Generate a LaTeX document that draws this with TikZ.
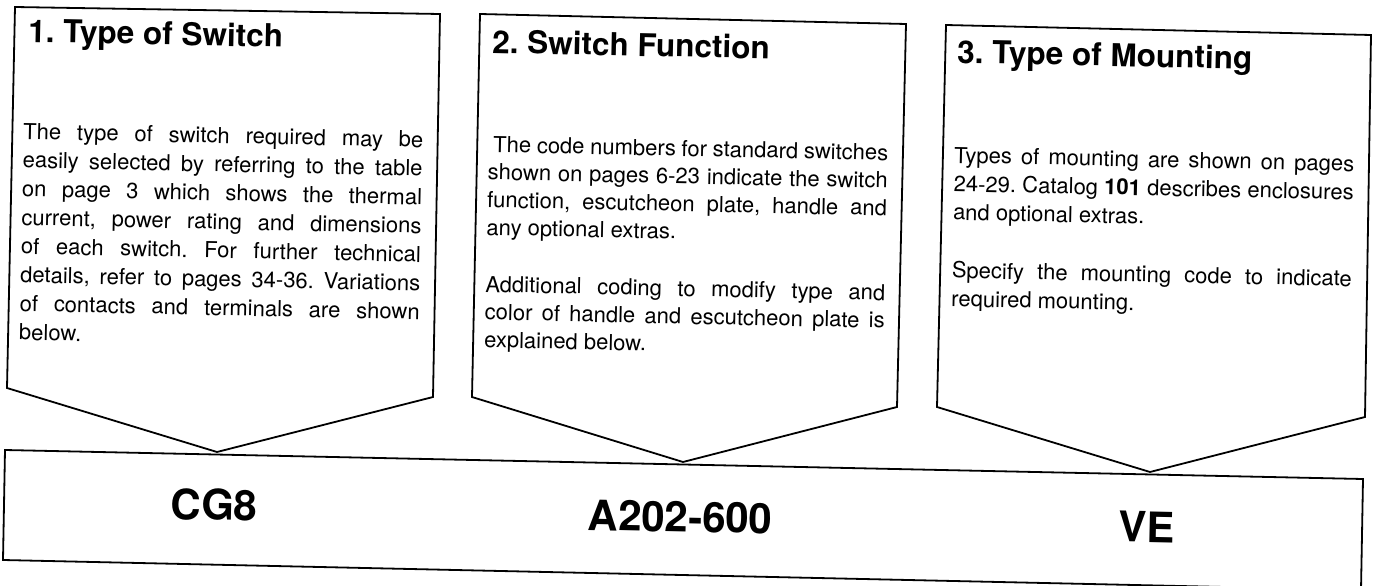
\documentclass[tikz,border=0pt]{standalone}
\usepackage{fontspec}
\setmainfont{TeX Gyre Heros}
\frenchspacing
\begin{document}
\begin{tikzpicture}[x=1pt,y=-1pt,
  outline/.style={line width=1.8pt, line join=miter},
  titletext/.style={anchor=base west, inner sep=0pt, rotate=-1.2, font=\fontsize{31.5}{36}\selectfont\bfseries},
  bodytext/.style={anchor=base west, inner sep=0pt, rotate=-1.2},
  codetext/.style={anchor=base, inner sep=0pt, rotate=-1.2, font=\fontsize{42}{48}\selectfont\bfseries}]
\useasboundingbox (0,0) rectangle (1374,586);
% the three arrow boxes
\draw[outline] (15,7) -- (440,14) -- (433,397) -- (217,452) -- (7,388) -- cycle;
\draw[outline] (480,14) -- (906,24) -- (897,407) -- (683,462) -- (472,397) -- cycle;
\draw[outline] (946,25) -- (1371,35) -- (1365,417) -- (1150,472) -- (937,407) -- cycle;
% the code strip
\draw[outline] (3,560) -- (5,450) -- (1363,479) -- (1361,590) -- cycle;
% titles
\node[titletext] (t1) at (28,42) {1. Type of Switch};
\node[titletext] (t2) at (492,53) {2. Switch Function};
\node[titletext] (t3) at (957,63) {3. Type of Mounting};
% bodies
\node[bodytext] (b1) at (23,139) {\vtop{\hsize=400pt\parindent=0pt\tolerance=9999\hyphenpenalty=10000\emergencystretch=10pt
\fontsize{22}{28.7}\selectfont
The type of switch required may be\linebreak easily selected by referring to the table\linebreak on page 3 which shows the thermal\linebreak current, power rating and dimensions\linebreak of each switch. For further technical\linebreak details, refer to pages 34-36. Variations\linebreak of contacts and terminals are shown\linebreak below.}};
\node[bodytext] (b2) at (488,152) {\vtop{\hsize=400pt\parindent=0pt\tolerance=9999\hyphenpenalty=10000\emergencystretch=10pt
\fontsize{22}{27.7}\selectfont\parskip=29.3pt
\hspace*{5pt}The code numbers for standard switches\linebreak shown on pages 6-23 indicate the switch\linebreak function, escutcheon plate, handle and\linebreak any optional extras.\par
Additional coding to modify type and\linebreak color of handle and escutcheon plate is\linebreak explained below.}};
\node[bodytext] (b3) at (954,163) {\vtop{\hsize=400pt\parindent=0pt\tolerance=9999\hyphenpenalty=10000\emergencystretch=10pt
\fontsize{22}{28.5}\selectfont\parskip=29.5pt
Types of mounting are shown on pages\linebreak 24-29. Catalog \textbf{101} describes enclosures\linebreak and optional extras.\par
Specify the mounting code to indicate\linebreak required mounting.}};
% codes
\node[codetext] (c1) at (214,520) {CG8};
\node[codetext] (c2) at (680,532) {A202-600};
\node[codetext] (c3) at (1146,542) {VE};
\end{tikzpicture}
\end{document}
